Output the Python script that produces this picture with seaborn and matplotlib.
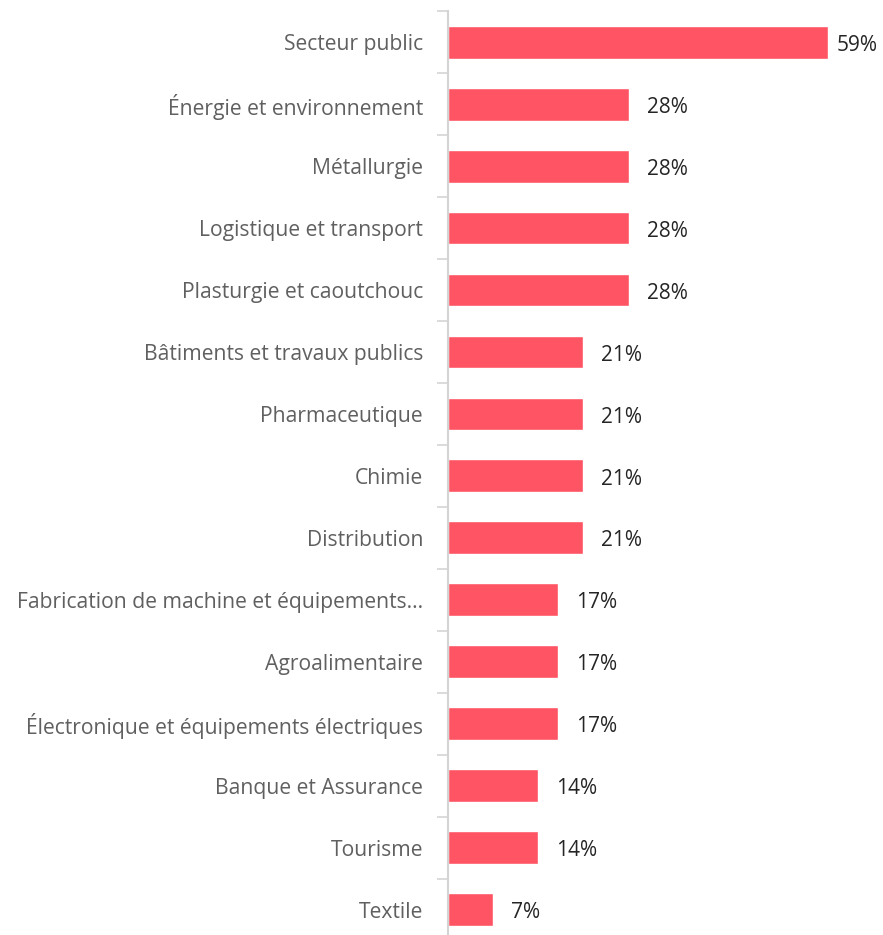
"""
Secteurs - part des répondants (barres horizontales)
"""

import matplotlib.pyplot as plt
import seaborn as sns
import pandas as pd

sectors = [
    "Secteur public",
    "Énergie et environnement",
    "Métallurgie",
    "Logistique et transport",
    "Plasturgie et caoutchouc",
    "Bâtiments et travaux publics",
    "Pharmaceutique",
    "Chimie",
    "Distribution",
    "Fabrication de machine et équipements...",
    "Agroalimentaire",
    "Électronique et équipements électriques",
    "Banque et Assurance",
    "Tourisme",
    "Textile",
]
shares = [59, 28, 28, 28, 28, 21, 21, 21, 21, 17, 17, 17, 14, 14, 7]

df = pd.DataFrame({"sector": sectors, "share": shares})

sns.set_style("white")
plt.rcParams["font.family"] = ["Open Sans", "DejaVu Sans"]

fig = plt.figure(figsize=(8.83, 9.35), dpi=100)
ax = fig.add_axes([0.5075, -0.006, 0.4925, 0.994])

sns.barplot(data=df, x="share", y="sector", color="#FF5463", width=0.53,
            saturation=1, ax=ax)

ax.set_xlim(0, 67.5)
ax.set_ylim(len(sectors) - 0.5, -0.5)
ax.set_xlabel("")
ax.set_ylabel("")
ax.set_xticks([])

# value labels (kept inside the figure for the longest bar)
for i, v in enumerate(shares):
    ax.text(min(v + 2.8, 60.3), i + 0.05, f"{v}%", va="center", ha="left",
            fontsize=15, color="#252525")

# category labels without tick marks, separators at boundaries
ax.tick_params(axis="y", which="major", left=False, length=0, pad=18,
               labelsize=15.2, labelcolor="#606060")
ax.set_yticks([i - 0.5 for i in range(len(sectors) + 1)], minor=True)
ax.tick_params(axis="y", which="minor", left=True, length=8, width=1.2,
               color="#d4d4d4")

for side in ["top", "right", "bottom"]:
    ax.spines[side].set_visible(False)
ax.spines["left"].set_color("#d4d4d4")
ax.spines["left"].set_linewidth(1.5)

plt.savefig("out.png", dpi=100)
